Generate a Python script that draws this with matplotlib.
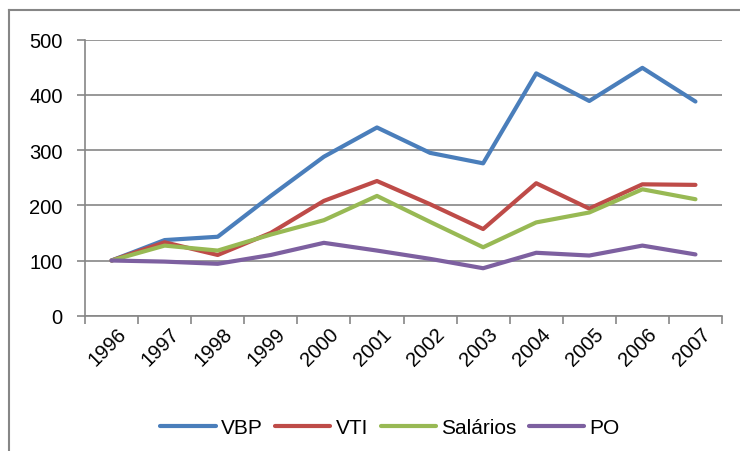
import matplotlib.pyplot as plt
import matplotlib.transforms as mtransforms
from matplotlib.lines import Line2D

# --- dados ---
anos = ['1996', '1997', '1998', '1999', '2000', '2001', '2002', '2003', '2004', '2005', '2006', '2007']
vbp = [100, 137, 143, 217, 288, 341, 295, 276, 439, 389, 449, 388]
vti = [100, 133, 110, 150, 208, 244, 202, 157, 240, 194, 238, 237]
salarios = [100, 127, 118, 147, 173, 217, 170, 124, 169, 187, 229, 211]
po = [100, 98, 94, 110, 132, 118, 103, 86, 114, 109, 127, 111]

series = [('VBP', vbp, '#4A7EBB'), ('VTI', vti, '#BE4B48'),
          ('Salários', salarios, '#98B954'), ('PO', po, '#7D60A0')]

plt.rcParams['font.family'] = ['Liberation Sans', 'DejaVu Sans']
W, H = 740, 452
fig = plt.figure(figsize=(W / 100, H / 100), dpi=100)
ax = fig.add_axes([85 / W, 1 - 316.7 / H, (722 - 85) / W, (316.7 - 40.7) / H])

x = list(range(len(anos)))
for nome, vals, cor in series:
    ax.plot(x, vals, color=cor, lw=3, label=nome, solid_capstyle='round', solid_joinstyle='round')

ax.set_ylim(0, 500)
ax.set_yticks(range(0, 501, 100))
ax.set_xlim(-0.5, len(anos) - 0.5)
ax.set_xticks([i - 0.5 for i in range(len(anos) + 1)])
ax.set_xticklabels([])
ax.set_xticks(x, minor=True)
ax.set_xticklabels(anos, minor=True, rotation=45, ha='right', va='top', rotation_mode='anchor')
ax.tick_params(axis='x', which='minor', length=0, labelsize=14.5, pad=6)
ax.tick_params(axis='x', which='major', length=6, color='#868686', width=1.2)
ax.tick_params(axis='y', length=6, color='#868686', width=1.2, labelsize=14.5, pad=10)

# desloca os rótulos dos anos um pouco para a direita
desloc = mtransforms.ScaledTranslation(5 / 100, 0, fig.dpi_scale_trans)
for lbl in ax.get_xticklabels(minor=True):
    lbl.set_transform(lbl.get_transform() + desloc)

ax.grid(axis='y', color='#868686', lw=1.2)
ax.set_axisbelow(True)
for s in ['top', 'right']:
    ax.spines[s].set_visible(False)
for s in ['left', 'bottom']:
    ax.spines[s].set_color('#868686')
    ax.spines[s].set_linewidth(1.2)

# borda do gráfico (recortada)
fig.add_artist(Line2D([9 / W, 9 / W], [-0.1, 1 - 11 / H], color='#868686', lw=1.5, transform=fig.transFigure))
fig.add_artist(Line2D([9 / W, 1.1], [1 - 11 / H, 1 - 11 / H], color='#868686', lw=1.5, transform=fig.transFigure))

fig.legend(loc='center', bbox_to_anchor=(390 / W, 1 - 429 / H), ncol=4, frameon=False,
           fontsize=15, handlelength=2.65, handletextpad=0.25, columnspacing=0.6)

fig.savefig('out.png', dpi=100)
